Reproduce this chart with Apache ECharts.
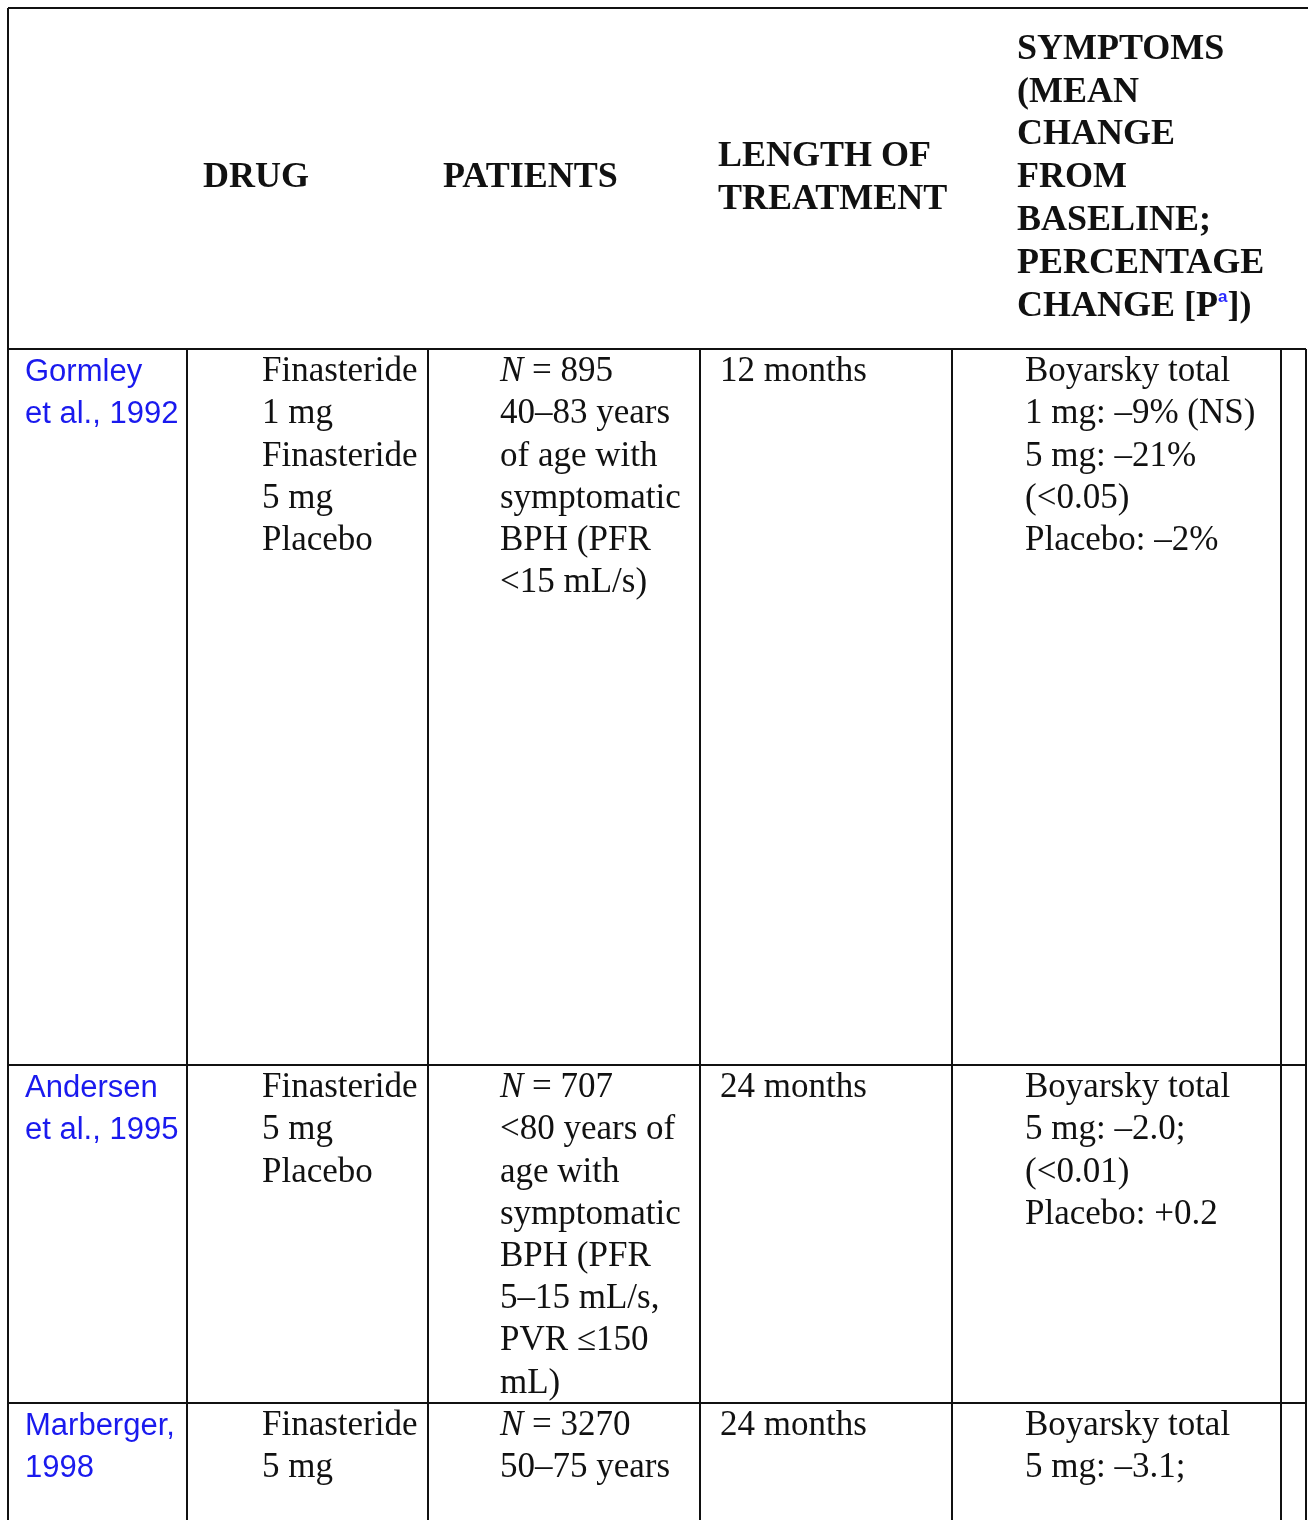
<!DOCTYPE html>
<html>
<head>
<meta charset="utf-8">
<script src="https://cdn.jsdelivr.net/npm/echarts@6/dist/echarts.min.js"></script>
<style>
  html, body { margin: 0; padding: 0; background: #fff; }
  #main { width: 1308px; height: 1520px; }
</style>
</head>
<body>
<div id="main"></div>
<script>
// Table content
const headers = [
  ["DRUG"],
  ["PATIENTS"],
  ["LENGTH OF", "TREATMENT"],
  ["SYMPTOMS", "(MEAN", "CHANGE", "FROM", "BASELINE;", "PERCENTAGE", "CHANGE [P{sup|a}])"]
];
const studies = [
  ["Gormley", "et al., 1992"],
  ["Andersen", "et al., 1995"],
  ["Marberger,", "1998"]
];
const drugs = [
  ["Finasteride", "1 mg", "Finasteride", "5 mg", "Placebo"],
  ["Finasteride", "5 mg", "Placebo"],
  ["Finasteride", "5 mg"]
];
const patients = [
  ["{it|N} = 895", "40–83 years", "of age with", "symptomatic", "BPH (PFR", "<15 mL/s)"],
  ["{it|N} = 707", "<80 years of", "age with", "symptomatic", "BPH (PFR", "5–15 mL/s,", "PVR ≤150", "mL)"],
  ["{it|N} = 3270", "50–75 years"]
];
const lengths = [["12 months"], ["24 months"], ["24 months"]];
const symptoms = [
  ["Boyarsky total", "1 mg: –9% (NS)", "5 mg: –21%", "(<0.05)", "Placebo: –2%"],
  ["Boyarsky total", "5 mg: –2.0;", "(<0.01)", "Placebo: +0.2"],
  ["Boyarsky total", "5 mg: –3.1;"]
];

const rowTops = [349, 1065, 1403, 1532];
const colLines = [8, 187, 428, 700, 952, 1281, 1306];
const bodyX = [25, 262, 500, 720, 1025];
const headerX = [203, 443, 718, 1017];
const lineH = 42.2;
const serif = "'Liberation Serif', 'DejaVu Serif', serif";
const sans = "'Liberation Sans', Arial, sans-serif";

const elements = [];

function addText(x, y, str, opts, rich) {
  elements.push({
    type: "text",
    x: x, y: y,
    style: Object.assign({
      text: str,
      fontFamily: serif,
      fontSize: 35,
      fill: "#111",
      verticalAlign: "middle",
      rich: rich || {
        it: { fontStyle: "italic", fontFamily: serif, fontSize: 35, fill: "#111" }
      }
    }, opts || {})
  });
}

function addLine(x1, y1, x2, y2, w) {
  elements.push({
    type: "line",
    shape: { x1: x1, y1: y1, x2: x2, y2: y2 },
    style: { stroke: "#111", lineWidth: w || 2 }
  });
}

// Header
const headerMid = 178;
headers.forEach((lines, c) => {
  const step = 42.8;
  const start = headerMid - (lines.length - 1) * step / 2;
  lines.forEach((l, i) => {
    addText(headerX[c], start + i * step, l, { fontWeight: "bold", fontSize: 36 }, {
      sup: { fontSize: 17, fill: "#2a2aff", fontWeight: "bold", padding: [0, 0, 18, 0] }
    });
  });
});

// Body rows
const bodyCols = [studies, drugs, patients, lengths, symptoms];
for (let r = 0; r < 3; r++) {
  const y0 = rowTops[r] + 23;
  bodyCols.forEach((col, c) => {
    col[r].forEach((l, i) => {
      const opts = c === 0 ? { fontFamily: sans, fontSize: 31, fill: "#1a1aee" } : {};
      addText(bodyX[c], y0 + i * lineH, l, opts);
    });
  });
}

// Borders
addLine(8, 8, 1308, 8);
addLine(8, 8, 8, rowTops[3]);
rowTops.forEach(y => addLine(8, y, 1306, y));
colLines.slice(1).forEach(x => addLine(x, rowTops[0], x, rowTops[3]));

const chart = echarts.init(document.getElementById("main"));
chart.setOption({
  backgroundColor: "#fff",
  animation: false,
  graphic: { elements: elements }
});
</script>
</body>
</html>
